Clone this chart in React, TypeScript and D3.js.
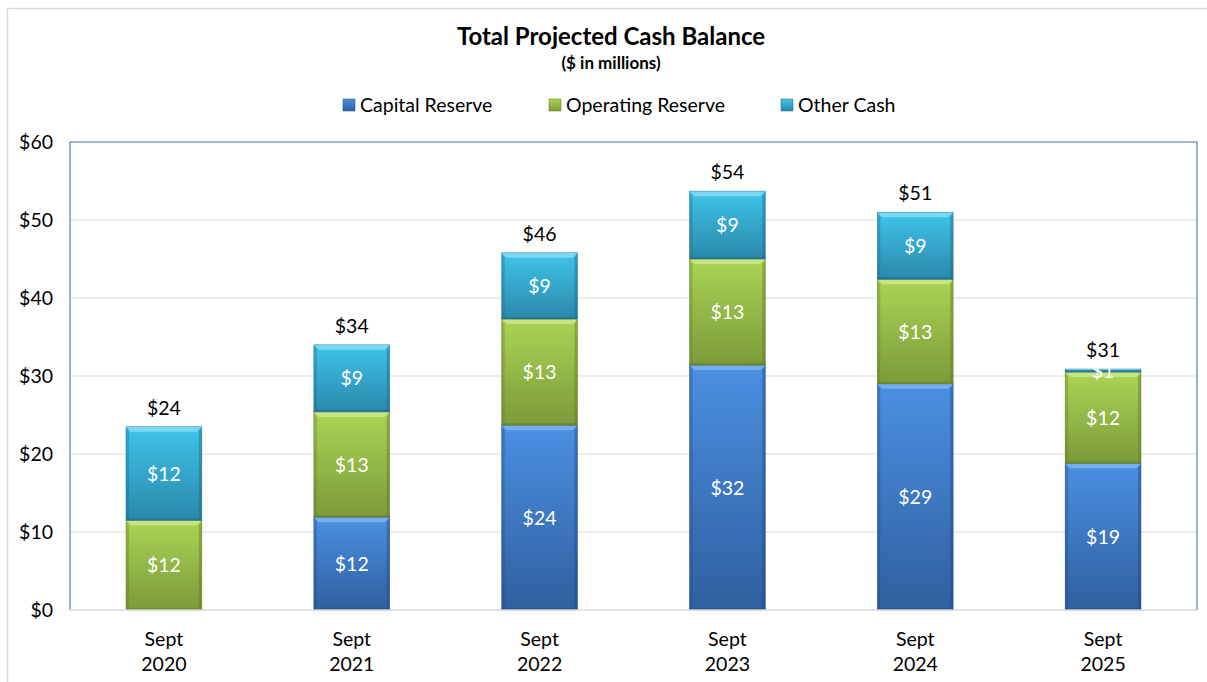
import React from "react";
import * as d3 from "d3";

const categories = ["Sept\n2020", "Sept\n2021", "Sept\n2022", "Sept\n2023", "Sept\n2024", "Sept\n2025"];
const capitalReserve = [0, 11.9, 23.7, 31.4, 29.0, 18.8];
const operatingReserve = [11.5, 13.5, 13.6, 13.6, 13.4, 11.7];
const otherCash = [12.0, 8.6, 8.5, 8.7, 8.6, 0.4];
const capitalLabels = ["", "$12", "$24", "$32", "$29", "$19"];
const operatingLabels = ["$12", "$13", "$13", "$13", "$13", "$12"];
const otherLabels = ["$12", "$9", "$9", "$9", "$9", "$1"];
const totalLabels = ["$24", "$34", "$46", "$54", "$51", "$31"];
const yTicks = [0, 10, 20, 30, 40, 50, 60];
const seriesNames = ["Capital Reserve", "Operating Reserve", "Other Cash"];

const palettes = [
  { top: "#4b90e2", bottom: "#2f5f9f", bevel: "#7db3f0", edge: "#234a7e" },
  { top: "#abd455", bottom: "#7b9b39", bevel: "#cbe88a", edge: "#5e7a26" },
  { top: "#3fc4ea", bottom: "#2a88ab", bevel: "#86dcf4", edge: "#1d6a86" },
];

const FONT = "Lato, 'Open Sans', sans-serif";
const FS = 19.5;

export default function App() {
  const W = 1207, H = 682;
  const left = 70, right = 1197, top = 142, bottom = 610;
  const x = d3.scaleBand<string>().domain(categories).range([left, right]).paddingInner(0.596).paddingOuter(0.298);
  const y = d3.scaleLinear().domain([0, 60]).range([bottom, top]);
  const series = [capitalReserve, operatingReserve, otherCash];
  const segLabels = [capitalLabels, operatingLabels, otherLabels];

  const stack = categories.map((c, i) => {
    let acc = 0;
    return series.map((s) => {
      const y0 = acc;
      acc += s[i];
      return { y0, y1: acc };
    });
  });

  const bw = x.bandwidth();

  return (
    <svg width={W} height={H} style={{ display: "block", position: "absolute", left: 0, top: 0 }}>
      <defs>
        {palettes.map((p, k) => (
          <linearGradient key={k} id={`g${k}`} x1="0" y1="0" x2="0" y2="1">
            <stop offset="0%" stopColor={p.top} />
            <stop offset="100%" stopColor={p.bottom} />
          </linearGradient>
        ))}
      </defs>
      <rect x={0} y={0} width={W} height={H} fill="#fff" />
      <path d={`M7.5,${H} V8.5 H${W}`} fill="none" stroke="#d9d9d9" strokeWidth={1.5} />

      <text x={611} y={45} textAnchor="middle" fontFamily={FONT} fontWeight="bold" fontSize={24} fill="#000">Total Projected Cash Balance</text>
      <text x={611} y={69} textAnchor="middle" fontFamily={FONT} fontWeight="bold" fontSize={17} fill="#000">($ in millions)</text>

      {seriesNames.map((n, k) => {
        const lx = [343, 549, 781][k];
        return (
          <g key={n}>
            <rect x={lx} y={99} width={12} height={12} fill={`url(#g${k})`} stroke={palettes[k].edge} strokeWidth={0.5} />
            <text x={lx + 17} y={111.5} fontFamily={FONT} fontSize={FS} fill="#000">{n}</text>
          </g>
        );
      })}

      {yTicks.filter((t) => t > 0).map((t) => (
        <line key={t} x1={left} x2={right} y1={y(t)} y2={y(t)} stroke="#d9d9d9" strokeWidth={1} />
      ))}
      {yTicks.map((t) => (
        <text key={t} x={53} y={y(t) + 7} textAnchor="end" fontFamily={FONT} fontSize={FS} fill="#000">${t}</text>
      ))}

      {categories.map((c, i) => {
        const bx = x(c)!;
        return (
          <g key={c}>
            {stack[i].map((seg, k) => {
              if (series[k][i] <= 0) return null;
              const yt = y(seg.y1), yb = y(seg.y0);
              const h = yb - yt;
              const p = palettes[k];
              const bev = Math.min(5, h / 3);
              return (
                <g key={k}>
                  <rect x={bx} y={yt} width={bw} height={h} fill={`url(#g${k})`} />
                  <polygon points={`${bx},${yt} ${bx + bw},${yt} ${bx + bw - bev},${yt + bev} ${bx + bev},${yt + bev}`} fill={p.bevel} opacity={0.85} />
                  <polygon points={`${bx},${yt} ${bx + bev * 0.6},${yt + bev} ${bx + bev * 0.6},${yb} ${bx},${yb}`} fill={p.edge} opacity={0.35} />
                  <polygon points={`${bx + bw},${yt} ${bx + bw - bev * 0.6},${yt + bev} ${bx + bw - bev * 0.6},${yb} ${bx + bw},${yb}`} fill={p.edge} opacity={0.45} />
                  <rect x={bx} y={yb - 2} width={bw} height={2} fill={p.edge} opacity={0.5} />
                  <rect x={bx} y={yt} width={bw} height={h} fill="none" stroke={p.edge} strokeWidth={0.6} opacity={0.6} />
                </g>
              );
            })}
            {stack[i].map((seg, k) => {
              const lab = segLabels[k][i];
              if (!lab) return null;
              const cy = (y(seg.y0) + y(seg.y1)) / 2;
              return (
                <text key={`l${k}`} x={bx + bw / 2} y={cy + 7} textAnchor="middle" fontFamily={FONT} fontSize={FS} fill="#fff">{lab}</text>
              );
            })}
            <text x={bx + bw / 2} y={y(stack[i][2].y1) - 12} textAnchor="middle" fontFamily={FONT} fontSize={FS} fill="#000">{totalLabels[i]}</text>
            {c.split("\n").map((ln, j) => (
              <text key={j} x={bx + bw / 2} y={646 + j * 25} textAnchor="middle" fontFamily={FONT} fontSize={FS} fill="#000">{ln}</text>
            ))}
          </g>
        );
      })}

      <path d={`M${left},${bottom} V${top} H${right} V${bottom}`} fill="none" stroke="#4f81bd" strokeWidth={1.2} />
      <line x1={left} x2={right} y1={bottom} y2={bottom} stroke="#d9d9d9" strokeWidth={1.5} />
    </svg>
  );
}
